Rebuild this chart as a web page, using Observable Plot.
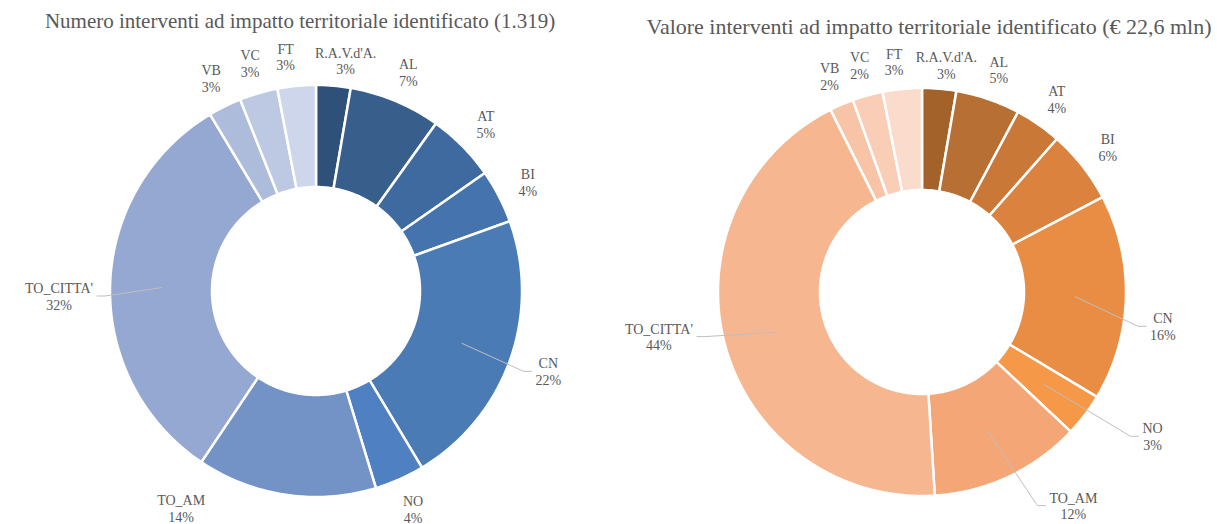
<!DOCTYPE html>
<html><head><meta charset="utf-8">
<script src="https://cdn.jsdelivr.net/npm/d3@7"></script>
<script src="https://cdn.jsdelivr.net/npm/@observablehq/plot@0.6"></script>
<style>
html,body{margin:0;padding:0;background:#fff;overflow:hidden;}
#wrap{position:relative;width:1217px;height:524px;}
.title{position:absolute;white-space:nowrap;transform:translateX(-50%);font-family:"Liberation Serif",serif;font-size:21px;color:#595959;line-height:1;}
.chart{position:absolute;top:40px;}
</style></head><body>
<div id="wrap">
<div class="title" style="left:300px;top:11px">Numero interventi ad impatto territoriale identificato (1.319)</div>
<div class="title" style="left:929px;top:16px;font-size:22px">Valore interventi ad impatto territoriale identificato (€ 22,6 mln)</div>
<div class="chart" id="c1" style="left:0px"></div>
<div class="chart" id="c2" style="left:608px"></div>
</div>
<script>
// ---- data ----
const categories = ["R.A.V.d'A.", "AL", "AT", "BI", "CN", "NO", "TO_AM", "TO_CITTA'", "VB", "VC", "FT"];
const numeroPct = [2.7, 7.2, 5.4, 4.2, 21.9, 3.9, 14.1, 32.0, 2.6, 3.0, 3.0];
const valorePct = [2.7, 5.1, 3.7, 5.8, 16.3, 3.4, 12.0, 43.6, 1.9, 2.4, 3.1];
const blues = ["#2f5079", "#385e8c", "#3e6a9f", "#4473ad", "#4a7bb5", "#4e80c2", "#7392c6", "#94a8d1", "#aebcdb", "#bdc9e3", "#cdd6ea"];
const oranges = ["#a4622b", "#b86f33", "#c97838", "#da823e", "#e98d44", "#f59848", "#f5a676", "#f6b690", "#f8c4a8", "#f9cdb6", "#fbdbcb"];

// ---- label placement (angle in degrees clockwise from top, radius as factor of outer radius) ----
const leftLabelLayout = {
  "R.A.V.d'A.": {angle: 7.2, r: 1.13},
  "FT": {angle: 352.5, r: 1.15},
  "CN": {angle: 109, r: 1.19, leader: true},
  "TO_CITTA'": {angle: 269, r: 1.25, leader: true},
  "TO_AM": {angle: 212, r: 1.24}
};
const rightLabelLayout = {
  "R.A.V.d'A.": {angle: 6, r: 1.12},
  "FT": {angle: 353, r: 1.14},
  "CN": {angle: 98, r: 1.19, leader: true},
  "NO": {angle: 122, r: 1.33, leader: true},
  "TO_AM": {angle: 144.7, r: 1.28, leader: true},
  "TO_CITTA'": {angle: 260.5, r: 1.31, leader: true}
};

const labelFont = "Liberation Serif";
const labelSize = 14;
const ctx = document.createElement("canvas").getContext("2d");
ctx.font = `${labelSize}px "${labelFont}"`;

function donut(values, colors, layout, {width, height, cx, cy, R, r}) {
  const total = d3.sum(values);
  let acc = 0;
  const slices = categories.map((c, i) => {
    const a0 = acc / total * 2 * Math.PI; acc += values[i];
    const a1 = acc / total * 2 * Math.PI;
    return {cat: c, pct: values[i] / total * 100, a0, a1, mid: (a0 + a1) / 2};
  });
  const ring = [];
  for (const s of slices) {
    const n = Math.max(2, Math.ceil((s.a1 - s.a0) / (Math.PI / 180)));
    for (let k = 0; k <= n; k++) {
      const a = s.a0 + (s.a1 - s.a0) * k / n;
      ring.push({cat: s.cat, x1: R * Math.sin(a), y1: R * Math.cos(a), x2: r * Math.sin(a), y2: r * Math.cos(a)});
    }
  }
  const labels = [], leaders = [];
  for (const s of slices) {
    const ov = layout[s.cat] || {};
    const ang = ov.angle != null ? ov.angle * Math.PI / 180 : s.mid;
    const rf = ov.r != null ? ov.r : 1.155;
    const lx = rf * R * Math.sin(ang), ly = rf * R * Math.cos(ang);
    const text = `${s.cat}\n${Math.round(s.pct)}%`;
    labels.push({cat: s.cat, x: lx, y: ly, text});
    if (ov.leader) {
      const w = Math.max(ctx.measureText(s.cat).width, ctx.measureText(Math.round(s.pct) + "%").width);
      const sg = Math.sign(lx);
      const endX = lx - sg * (w / 2 + 4);
      const elbowX = endX - sg * 8;
      const sx = 0.75 * R * Math.sin(s.mid), sy = 0.75 * R * Math.cos(s.mid);
      leaders.push({cat: s.cat, x: sx, y: sy}, {cat: s.cat, x: elbowX, y: ly}, {cat: s.cat, x: endX, y: ly});
    }
  }
  return Plot.plot({
    width, height, margin: 0,
    x: {domain: [-cx, width - cx], axis: null},
    y: {domain: [-(height - cy), cy], axis: null},
    color: {domain: categories, range: colors},
    style: {overflow: "visible", background: "transparent"},
    marks: [
      Plot.area(ring, {x1: "x1", y1: "y1", x2: "x2", y2: "y2", z: "cat", fill: "cat", stroke: "white", strokeWidth: 2.5, curve: "linear"}),
      Plot.line(leaders, {x: "x", y: "y", z: "cat", stroke: "#bfbfbf", strokeWidth: 1}),
      Plot.text(labels, {x: "x", y: "y", text: "text", fontFamily: labelFont, fontSize: labelSize, fill: "#595959", lineHeight: 1.2, lineAnchor: "middle"})
    ]
  });
}

document.getElementById("c1").appendChild(donut(numeroPct, blues, leftLabelLayout, {width: 608, height: 484, cx: 316, cy: 251, R: 206, r: 104}));
document.getElementById("c2").appendChild(donut(valorePct, oranges, rightLabelLayout, {width: 609, height: 484, cx: 314, cy: 252, R: 204, r: 102}));
</script>
</body></html>
